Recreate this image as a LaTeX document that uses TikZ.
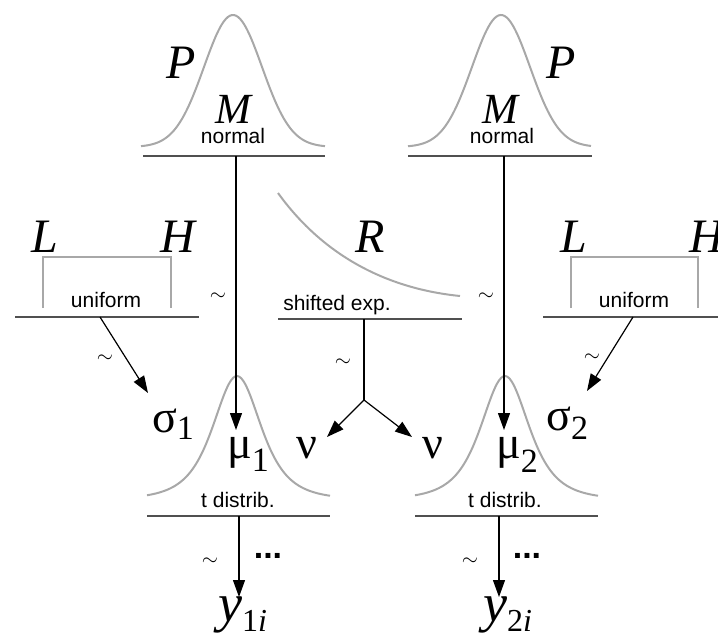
\documentclass[tikz,border=0pt]{standalone}
\usepackage{fontspec}
\setmainfont{Liberation Serif}
\setsansfont{Liberation Sans}
\usetikzlibrary{arrows.meta}
\definecolor{curvegray}{HTML}{A8A8A8}
\definecolor{basegray}{HTML}{505050}
\begin{document}
\begin{tikzpicture}[x=1pt,y=-1pt,
  bell/.style={draw=curvegray, line width=2pt},
  baseln/.style={draw=basegray, line width=2.2pt},
  arr/.style={draw=black, line width=1.2pt, -{Triangle[length=17pt,width=12pt]}},
  plainln/.style={draw=black, line width=1.2pt},
  lbl/.style={inner sep=0pt, anchor=base},
  ital/.style={lbl, font=\fontsize{48}{48}\selectfont\itshape},
  mlab/.style={lbl, font=\fontsize{43}{43}\selectfont\itshape},
  sanslab/.style={lbl, font=\sffamily\fontsize{21}{21}\selectfont},
  greek/.style={inner sep=0pt, anchor=base west, font=\fontsize{46}{46}\selectfont},
  tld/.style={inner sep=0pt, font=\fontsize{21}{21}\selectfont},
  dots/.style={inner sep=0pt, font=\sffamily\bfseries\fontsize{34}{34}\selectfont},
  yvar/.style={inner sep=0pt, anchor=base west, font=\fontsize{54}{54}\selectfont}
]
\useasboundingbox (0,0) rectangle (718,635);

% ---------- top normal distributions ----------
\draw[bell] plot[domain=-92:92, samples=90, smooth] ({233+\x},{147-132*exp(-0.5*(\x/29)^2)});
\draw[bell] plot[domain=-93:90, samples=90, smooth] ({501+\x},{147-132*exp(-0.5*(\x/29)^2)});
\draw[baseln] (143,156) -- (325,156);
\draw[baseln] (408,156) -- (592,156);
\node[ital] (P1) at (181,78) {P};
\node[ital] (P2) at (561,78) {P};
\node[mlab] (M1) at (233,123) {M};
\node[mlab] (M2) at (500,123) {M};
\node[sanslab] (n1) at (233,143) {normal};
\node[sanslab] (n2) at (502,143) {normal};

% ---------- uniform distributions ----------
\draw[bell] (43,308) -- (43,257) -- (171,257) -- (171,308);
\draw[bell] (571,308) -- (571,257) -- (698,257) -- (698,308);
\draw[baseln] (15,317) -- (199,317);
\draw[baseln] (543,317) -- (718,317);
\node[ital] (L1) at (45,252) {L};
\node[ital] (H1) at (178,252) {H};
\node[ital] (L2) at (574,252) {L};
\node[ital] (H2) at (707,252) {H};
\node[sanslab] (u1) at (106,307) {uniform};
\node[sanslab] (u2) at (634,307) {uniform};

% ---------- shifted exponential ----------
\draw[bell] (278,193) .. controls (330,265) and (400,290) .. (460,296);
\draw[baseln] (278,319) -- (462,319);
\node[ital] (R) at (370,252) {R};
\node[sanslab] (se) at (337,310) {shifted exp.};

% ---------- t distributions ----------
\draw[bell] plot[domain=-90:93, samples=90, smooth] ({237+\x},{500-124/((1+(\x/25.6)^2/3)^2)});
\draw[bell] plot[domain=-90:93, samples=90, smooth] ({505+\x},{500-124/((1+(\x/25.6)^2/3)^2)});
\draw[baseln] (147,516) -- (330,516);
\draw[baseln] (415,516) -- (598,516);
\node[sanslab] (t1) at (238,507) {t distrib.};
\node[sanslab] (t2) at (505,507) {t distrib.};

% ---------- parameter labels ----------
\node[greek] (s1) at (152,432) {σ\raisebox{-7pt}{\fontsize{34}{34}\selectfont 1}};
\node[greek] (mu1) at (227,458) {μ\raisebox{-13pt}{\fontsize{34}{34}\selectfont 1}};
\node[greek] (nu1) at (296,458) {ν};
\node[greek] (nu2) at (422,458) {ν};
\node[greek] (mu2) at (496,458) {μ\raisebox{-14pt}{\fontsize{34}{34}\selectfont 2}};
\node[greek] (s2) at (546,430) {σ\raisebox{-9pt}{\fontsize{34}{34}\selectfont 2}};

% ---------- connector coordinates ----------
\coordinate (aTL) at (236,156);
\coordinate (aTLe) at (236,430);
\coordinate (aTR) at (504,156);
\coordinate (aTRe) at (504,430);
\coordinate (aUL) at (100,317);
\coordinate (aULe) at (148,393);
\coordinate (aUR) at (633,317);
\coordinate (aURe) at (587,391);
\coordinate (aS) at (364,319);
\coordinate (br) at (364,400);
\coordinate (nuLe) at (327,437);
\coordinate (nuRe) at (412,437);
\coordinate (aBL) at (239,516);
\coordinate (aBLe) at (239,597);
\coordinate (aBR) at (499,516);
\coordinate (aBRe) at (499,597);

\draw[arr] (aTL) -- (aTLe);
\draw[arr] (aTR) -- (aTRe);
\draw[arr] (aUL) -- (aULe);
\draw[arr] (aUR) -- (aURe);
\draw[plainln] (aS) -- (br);
\draw[arr] (br) -- (nuLe);
\draw[arr] (br) -- (nuRe);
\draw[arr] (aBL) -- (aBLe);
\draw[arr] (aBR) -- (aBRe);

% ---------- tildes and dots ----------
\node[tld] (tl1) at (218,297) {$\sim$};
\node[tld] (tl2) at (486,297) {$\sim$};
\node[tld] (tl3) at (343,363) {$\sim$};
\node[tld] (tl4) at (105,359) {$\sim$};
\node[tld] (tl5) at (592,358) {$\sim$};
\node[tld] (tl6) at (210,562) {$\sim$};
\node[tld] (tl7) at (470,562) {$\sim$};
\node[dots] (d1) at (268,556) {...};
\node[dots] (d2) at (527,556) {...};

% ---------- data ----------
\node[yvar] (y1) at (218,621) {\textit{y}\raisebox{-10pt}{\fontsize{32}{32}\selectfont 1\textit{i}}};
\node[yvar] (y2) at (483,621) {\textit{y}\raisebox{-10pt}{\fontsize{32}{32}\selectfont 2\textit{i}}};
\end{tikzpicture}
\end{document}
